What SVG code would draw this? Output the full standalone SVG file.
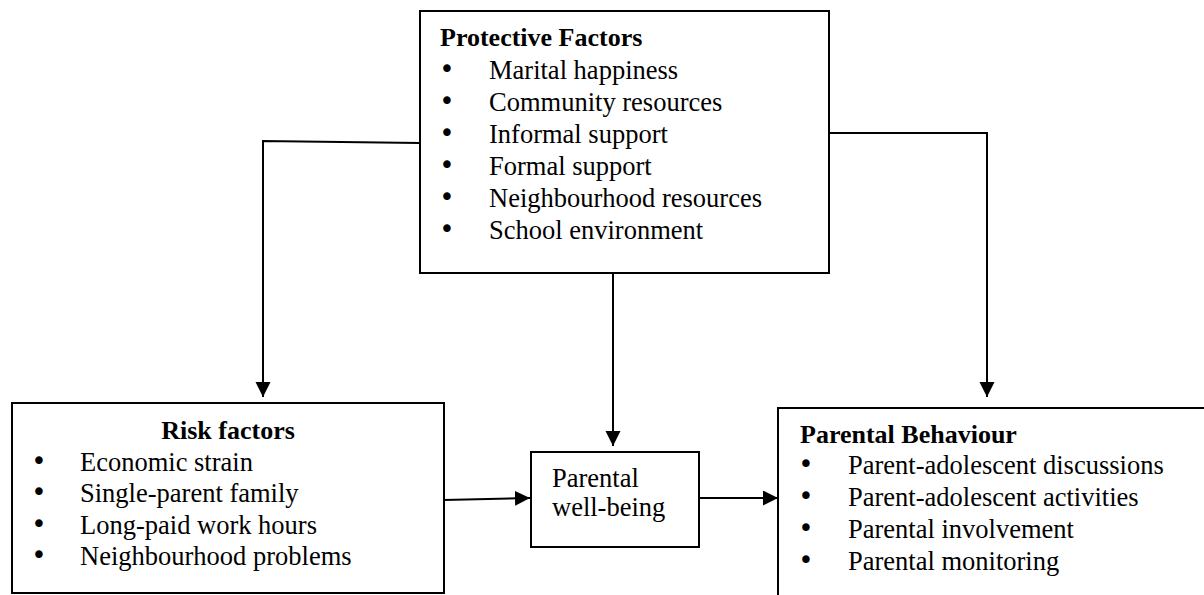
<svg xmlns="http://www.w3.org/2000/svg" width="1204" height="595" viewBox="0 0 1204 595">
<style>
.box{fill:#fff;stroke:#000;stroke-width:2}
.t{font-family:"Liberation Serif","Times New Roman",serif;font-size:26.5px;fill:#000}
.b{font-weight:bold;font-size:26px}
.d{font-family:"DejaVu Sans",sans-serif;font-size:26px;fill:#000;text-anchor:middle}
.c{fill:none;stroke:#000;stroke-width:2}
</style>
<defs>
<marker id="ah" markerUnits="userSpaceOnUse" markerWidth="16" markerHeight="16" refX="15" refY="7.5" orient="auto" viewBox="0 0 16 16">
<path d="M0,0 L15,7.5 L0,15 z" fill="#000"/>
</marker>
</defs>
<rect width="1204" height="595" fill="#fff"/>
<g id="connectors">
<polyline class="c" points="420,143 263,141 263,397" marker-end="url(#ah)"/>
<polyline class="c" points="826,133 987,133 987,397" marker-end="url(#ah)"/>
<line class="c" x1="613" y1="273" x2="613" y2="446" marker-end="url(#ah)"/>
<line class="c" x1="444" y1="500" x2="530" y2="498" marker-end="url(#ah)"/>
<line class="c" x1="699" y1="498" x2="778" y2="498" marker-end="url(#ah)"/>
</g>
<g id="protective">
<rect class="box" x="420" y="11" width="409" height="262"/>
<text class="t b" x="440" y="46">Protective Factors</text>
<text class="d" x="447" y="78">•</text><text class="t" x="489" y="79">Marital happiness</text>
<text class="d" x="447" y="110">•</text><text class="t" x="489" y="111">Community resources</text>
<text class="d" x="447" y="142">•</text><text class="t" x="489" y="143">Informal support</text>
<text class="d" x="447" y="174">•</text><text class="t" x="489" y="175">Formal support</text>
<text class="d" x="447" y="206">•</text><text class="t" x="489" y="207">Neighbourhood resources</text>
<text class="d" x="447" y="238">•</text><text class="t" x="489" y="239">School environment</text>
</g>
<g id="risk">
<rect class="box" x="12" y="403" width="432" height="190"/>
<text class="t b" x="228" y="439" text-anchor="middle">Risk factors</text>
<text class="d" x="39" y="470">•</text><text class="t" x="80" y="471">Economic strain</text>
<text class="d" x="39" y="501">•</text><text class="t" x="80" y="502">Single-parent family</text>
<text class="d" x="39" y="533">•</text><text class="t" x="80" y="534">Long-paid work hours</text>
<text class="d" x="39" y="564">•</text><text class="t" x="80" y="565">Neighbourhood problems</text>
</g>
<g id="wellbeing">
<rect class="box" x="531" y="452" width="168" height="95"/>
<text class="t" x="552" y="487">Parental</text>
<text class="t" x="552" y="516">well-being</text>
</g>
<g id="behaviour">
<rect class="box" x="778" y="408" width="440" height="200"/>
<text class="t b" x="800" y="443">Parental Behaviour</text>
<text class="d" x="806" y="473">•</text><text class="t" x="848" y="474">Parent-adolescent discussions</text>
<text class="d" x="806" y="505">•</text><text class="t" x="848" y="506">Parent-adolescent activities</text>
<text class="d" x="806" y="537">•</text><text class="t" x="848" y="538">Parental involvement</text>
<text class="d" x="806" y="569">•</text><text class="t" x="848" y="570">Parental monitoring</text>
</g>
</svg>
